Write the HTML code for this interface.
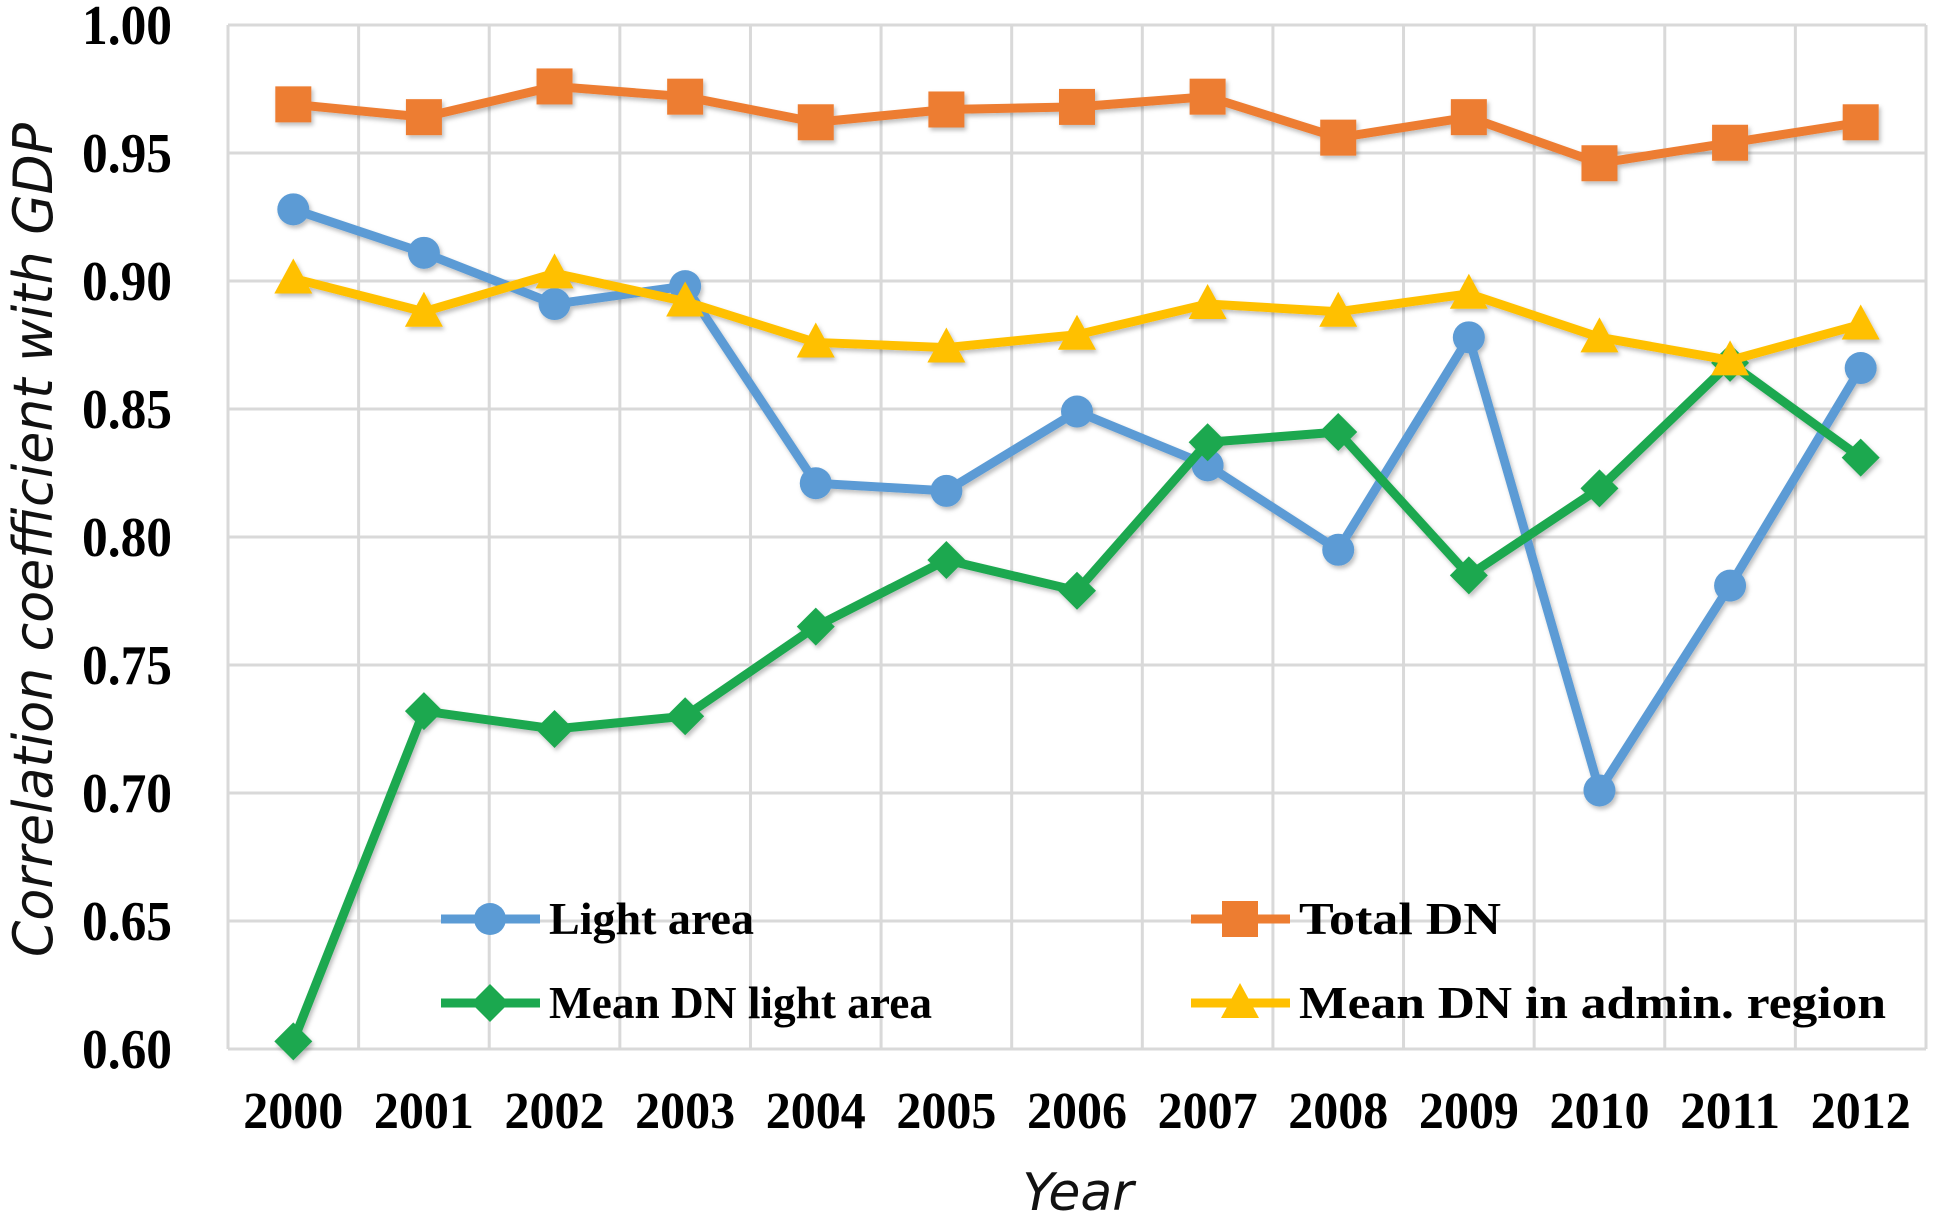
<!DOCTYPE html>
<html><head><meta charset="utf-8"><style>
html,body{margin:0;padding:0;background:#fff;}
svg{display:block;}
</style></head><body>
<svg id="chart" width="1936" height="1218" viewBox="0 0 1936 1218" xmlns="http://www.w3.org/2000/svg">
<defs>
<filter id="sh" x="-20%" y="-20%" width="140%" height="140%"><feDropShadow dx="2" dy="3" stdDeviation="2" flood-color="#000" flood-opacity="0.25"/></filter>
</defs>
<g id="grid"></g>
<g id="yticks"></g>
<g id="xticks"></g>
<g id="series" filter="url(#sh)"></g>
<text transform="translate(52,540) rotate(-90)" text-anchor="middle" font-family="'DejaVu Sans','Liberation Sans',sans-serif" font-style="italic" font-size="54" textLength="834" lengthAdjust="spacingAndGlyphs" fill="#111">Correlation coefficient with GDP</text>
<text x="1078" y="1210" text-anchor="middle" font-family="'DejaVu Sans','Liberation Sans',sans-serif" font-style="italic" font-size="52" fill="#111">Year</text>
<g id="legend"></g>
</svg>
<script>
const years = ["2000","2001","2002","2003","2004","2005","2006","2007","2008","2009","2010","2011","2012"];
const lightArea = [0.928,0.911,0.891,0.898,0.821,0.818,0.849,0.828,0.795,0.878,0.701,0.781,0.866];
const totalDN = [0.969,0.964,0.976,0.972,0.962,0.967,0.968,0.972,0.956,0.964,0.946,0.954,0.962];
const meanDNLight = [0.603,0.732,0.725,0.730,0.765,0.791,0.779,0.837,0.841,0.785,0.819,0.868,0.831];
const meanDNAdmin = [0.901,0.888,0.903,0.892,0.876,0.874,0.879,0.891,0.888,0.895,0.878,0.869,0.883];
const yTicks = [0.60,0.65,0.70,0.75,0.80,0.85,0.90,0.95,1.00];

const NS="http://www.w3.org/2000/svg";
const L=228,R=1926,T=25,B=1049,yMin=0.6,yMax=1.0;
const colW=(R-L)/years.length;
const xs=i=>L+(i+0.5)*colW;
const ys=v=>B-(v-yMin)/(yMax-yMin)*(B-T);
function mk(tag,attrs,parent){const e=document.createElementNS(NS,tag);for(const k in attrs)e.setAttribute(k,attrs[k]);parent.appendChild(e);return e;}
const grid=document.getElementById('grid');
yTicks.forEach(v=>{
  const l=mk('line',{x1:L,x2:R,y1:ys(v),y2:ys(v),stroke:'#d9d9d9','stroke-width':3},grid);
  
  
});
for(let i=0;i<=years.length;i++){
  const l=mk('line',{x1:L+i*colW,x2:L+i*colW,y1:T,y2:B,stroke:'#d9d9d9','stroke-width':3},grid);
  
  
}
const yt=document.getElementById('yticks');
yTicks.forEach(v=>{
  const t=mk('text',{x:82,y:ys(v)+19,'font-family':"'Liberation Serif',serif",'font-weight':'bold','font-size':56,fill:'#000',textLength:90,lengthAdjust:'spacingAndGlyphs'},yt);
  t.textContent=v.toFixed(2);
  
  
});
const xt=document.getElementById('xticks');
years.forEach((y,i)=>{
  const t=mk('text',{x:xs(i),y:1128,'text-anchor':'middle','font-family':"'Liberation Serif',serif",'font-weight':'bold','font-size':52,fill:'#000',textLength:100,lengthAdjust:'spacingAndGlyphs'},xt);
  t.textContent=y;
  
  
});
function marker(shape,cx,cy,color,parent){
  let e;
  if(shape==='circle')e=mk('circle',{cx:cx,cy:cy,r:16,fill:color},parent);
  else if(shape==='square')e=mk('rect',{x:cx-18,y:cy-18,width:36,height:36,fill:color},parent);
  else if(shape==='diamond')e=mk('polygon',{points:`${cx},${cy-19} ${cx+19},${cy} ${cx},${cy+19} ${cx-19},${cy}`,fill:color},parent);
  else e=mk('polygon',{points:`${cx},${cy-20} ${cx+19},${cy+15} ${cx-19},${cy+15}`,fill:color},parent);
  return e;
}
const sg=document.getElementById('series');
const defs=[
  {name:'light-area',data:lightArea,color:'#5B9BD5',shape:'circle'},
  {name:'total-dn',data:totalDN,color:'#ED7D31',shape:'square'},
  {name:'mean-dn-light-area',data:meanDNLight,color:'#1BA84F',shape:'diamond'},
  {name:'mean-dn-admin-region',data:meanDNAdmin,color:'#FFC000',shape:'triangle'}
];
defs.forEach(s=>{
  const g=mk('g',{},sg);
  
  
  const p=mk('polyline',{points:s.data.map((v,i)=>xs(i)+','+ys(v)).join(' '),fill:'none',stroke:s.color,'stroke-width':9,'stroke-linejoin':'round'},g);
  
  
  s.data.forEach((v,i)=>{
    const m=marker(s.shape,xs(i),ys(v),s.color,g);
    
    
  });
});
const lg=document.getElementById('legend');
const leg=[
  {label:'Light area',x:441,y:919,i:0,w:205},
  {label:'Mean DN light area',x:441,y:1003,i:2,w:383},
  {label:'Total DN',x:1191,y:919,i:1,w:202},
  {label:'Mean DN in admin. region',x:1191,y:1003,i:3,w:587}
];
leg.forEach(e=>{
  const s=defs[e.i];
  const g=mk('g',{},lg);
  
  
  mk('line',{x1:e.x,x2:e.x+99,y1:e.y,y2:e.y,stroke:s.color,'stroke-width':9},g);
  marker(s.shape,e.x+49,e.y,s.color,g);
  const t=mk('text',{x:e.x+108,y:e.y+15,'font-family':"'Liberation Serif',serif",'font-weight':'bold','font-size':46,fill:'#000',textLength:e.w,lengthAdjust:'spacingAndGlyphs'},g);
  t.textContent=e.label;
});
</script>
</body></html>
